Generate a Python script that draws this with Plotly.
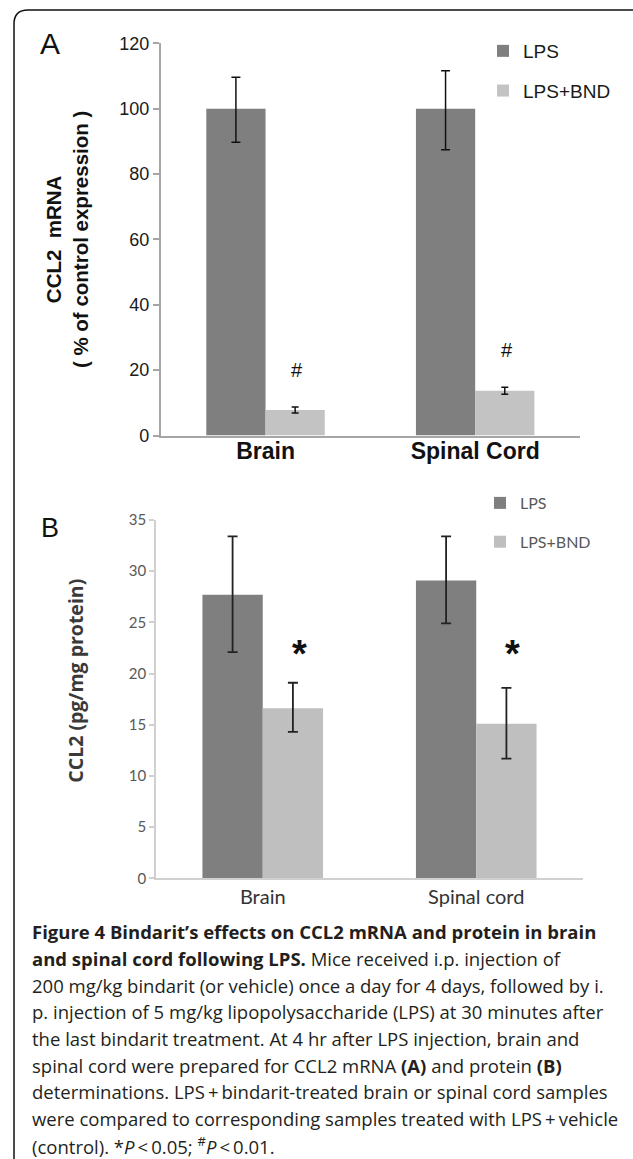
import plotly.graph_objects as go

W, H = 633, 1159

# ---------------- data ----------------
series_names = ["LPS", "LPS+BND"]

categories_a = ["Brain", "Spinal Cord"]
lps_a = [100, 100]
lps_a_err_plus = [9.6, 11.6]
lps_a_err_minus = [10.3, 12.6]
bnd_a = [7.8, 13.7]
bnd_a_err = [0.9, 1.1]
yticks_a = [0, 20, 40, 60, 80, 100, 120]
sig_a = ["#", "#"]

categories_b = ["Brain", "Spinal cord"]
lps_b = [27.7, 29.1]
lps_b_err_plus = [5.7, 4.3]
lps_b_err_minus = [5.6, 4.2]
bnd_b = [16.6, 15.1]
bnd_b_err_plus = [2.5, 3.5]
bnd_b_err_minus = [2.3, 3.4]
yticks_b = [0, 5, 10, 15, 20, 25, 30, 35]
sig_b = ["*", "*"]

caption_lines = [
    "<b>Figure 4 Bindarit\u2019s effects on CCL2 mRNA and protein in brain</b>",
    "<b>and spinal cord following LPS.</b> Mice received i.p. injection of",
    "200 mg/kg bindarit (or vehicle) once a day for 4 days, followed by i.",
    "p. injection of 5 mg/kg lipopolysaccharide (LPS) at 30 minutes after",
    "the last bindarit treatment. At 4 hr after LPS injection, brain and",
    "spinal cord were prepared for CCL2 mRNA <b>(A)</b> and protein <b>(B)</b>",
    "determinations. LPS\u2009+\u2009bindarit-treated brain or spinal cord samples",
    "were compared to corresponding samples treated with LPS\u2009+\u2009vehicle",
    "(control). *<i>P</i>\u2009<\u20090.05; <sup>#</sup><i>P</i>\u2009<\u20090.01.",
]

# ---------------- helpers ----------------
def px_x(p):
    return p / W

def px_y(p):
    return 1 - p / H

C_DARK = "#7f7f7f"
C_LIGHT_A = "#c3c3c3"
C_LIGHT_B = "#bfbfbf"
ARIAL = "Liberation Sans, Arial, sans-serif"
CALIBRI = "Lato, Open Sans, sans-serif"
MYRIAD = "Open Sans, Noto Sans, sans-serif"

fig = go.Figure()

# ---------------- panel A ----------------
fig.add_trace(go.Bar(
    name=series_names[0], x=categories_a, y=lps_a,
    marker=dict(color=C_DARK, line=dict(width=0)),
    error_y=dict(type="data", symmetric=False, array=lps_a_err_plus,
                 arrayminus=lps_a_err_minus, color="#111", thickness=1.5, width=4.5),
    xaxis="x", yaxis="y", legend="legend", legendgroup="a1",
))
fig.add_trace(go.Bar(
    name=series_names[1], x=categories_a, y=bnd_a,
    marker=dict(color=C_LIGHT_A, line=dict(width=0)),
    error_y=dict(type="data", array=bnd_a_err, color="#111", thickness=1.5, width=3.5),
    xaxis="x", yaxis="y", legend="legend", legendgroup="a2",
))

# ---------------- panel B ----------------
fig.add_trace(go.Bar(
    name=series_names[0], x=categories_b, y=lps_b,
    marker=dict(color=C_DARK, line=dict(width=0)),
    error_y=dict(type="data", symmetric=False, array=lps_b_err_plus,
                 arrayminus=lps_b_err_minus, color="#222", thickness=1.8, width=5),
    xaxis="x2", yaxis="y2", legend="legend2", legendgroup="b1",
))
fig.add_trace(go.Bar(
    name=series_names[1], x=categories_b, y=bnd_b,
    marker=dict(color=C_LIGHT_B, line=dict(width=0)),
    error_y=dict(type="data", symmetric=False, array=bnd_b_err_plus,
                 arrayminus=bnd_b_err_minus, color="#222", thickness=1.8, width=5),
    xaxis="x2", yaxis="y2", legend="legend2", legendgroup="b2",
))

annotations = []
# significance marks, above the LPS+BND error bars
for i, s in enumerate(sig_a):
    annotations.append(dict(
        x=i + 0.15, y=bnd_a[i] + bnd_a_err[i] + 11.3, xref="x", yref="y",
        text=s, showarrow=False, font=dict(family=ARIAL, size=20, color="#111"),
        xanchor="center", yanchor="middle"))
sig_level_b = max(v + e for v, e in zip(bnd_b, bnd_b_err_plus)) + 3.6
for i, s in enumerate(sig_b):
    annotations.append(dict(
        x=i + 0.17, y=sig_level_b, xref="x2", yref="y2",
        text=s, showarrow=False, font=dict(family=ARIAL, size=38, color="#111", weight="bold"),
        xanchor="center", yanchor="middle", yshift=-8))

# panel letters
annotations.append(dict(x=px_x(50), y=px_y(44), xref="paper", yref="paper", text="A",
                        showarrow=False, font=dict(family=ARIAL, size=30, color="#111"),
                        xanchor="center", yanchor="middle"))
annotations.append(dict(x=px_x(50), y=px_y(527.5), xref="paper", yref="paper", text="B",
                        showarrow=False, font=dict(family=ARIAL, size=27, color="#111"),
                        xanchor="center", yanchor="middle"))

# y-axis title of panel B (sits a little above the axis centre in the original)
annotations.append(dict(x=px_x(74.7), y=px_y(681), xref="paper", yref="paper",
                        text="<b>CCL2 (pg/mg protein)</b>", textangle=-90, showarrow=False,
                        font=dict(family=MYRIAD, size=19.5, color="#3a3a3a"),
                        xanchor="center", yanchor="middle"))

# caption
for k, line in enumerate(caption_lines):
    annotations.append(dict(
        x=px_x(30), y=px_y(931.7 + 26.67 * k), xref="paper", yref="paper",
        text=line, showarrow=False, align="left",
        font=dict(family=MYRIAD, size=18.5, color="#231f20"),
        xanchor="left", yanchor="middle"))

# frame (rounded top-left corner)
x0, y0, r = 14, 10, 14
frame_path = (f"M {px_x(W + 5)},{px_y(y0)} L {px_x(x0 + r)},{px_y(y0)} "
              f"Q {px_x(x0)},{px_y(y0)} {px_x(x0)},{px_y(y0 + r)} "
              f"L {px_x(x0)},{px_y(H + 5)}")
shapes = [dict(type="path", path=frame_path, xref="paper", yref="paper",
               line=dict(color="#111", width=1.5))]

fig.update_layout(
    width=W, height=H,
    margin=dict(l=0, r=0, t=0, b=0),
    paper_bgcolor="white", plot_bgcolor="white",
    barmode="group", bargap=0.435, bargroupgap=0,
    showlegend=True,
    annotations=annotations, shapes=shapes,
    xaxis=dict(
        domain=[px_x(160.7), px_x(580)], anchor="y",
        showline=True, linecolor="#a6a6a6", linewidth=1.5,
        ticks="", showgrid=False, zeroline=False, automargin=False,
        ticklabelstandoff=-6,
        tickfont=dict(family=ARIAL, size=23, color="#111", weight="bold"),
    ),
    yaxis=dict(
        domain=[px_y(435.5), px_y(43.3)], anchor="x", range=[0, 120],
        tickvals=yticks_a, showline=True, linecolor="#a6a6a6", linewidth=1.5,
        ticks="outside", ticklen=6, tickcolor="#a6a6a6", tickwidth=1.5,
        showgrid=False, zeroline=False, automargin=False,
        tickfont=dict(family=ARIAL, size=18, color="#1a1a1a"),
        title=dict(text="CCL2\u00a0 mRNA<br>( % of control expression )",
                   font=dict(family=ARIAL, size=20.5, color="#111", weight="bold"),
                   standoff=25),
    ),
    xaxis2=dict(
        domain=[px_x(156), px_x(583)], anchor="y2",
        showline=True, linecolor="#d0d0d0", linewidth=1.5,
        ticks="", showgrid=False, zeroline=False, automargin=False,
        tickfont=dict(family=CALIBRI, size=20, color="#333333"),
    ),
    yaxis2=dict(
        domain=[px_y(878.3), px_y(520)], anchor="x2", range=[0, 35],
        tickvals=yticks_b, showline=True, linecolor="#d0d0d0", linewidth=1.5,
        ticks="outside", ticklen=5, tickcolor="#d0d0d0", tickwidth=1.5,
        showgrid=False, zeroline=False, automargin=False,
        tickfont=dict(family=CALIBRI, size=15, color="#595959"),
    ),
    legend=dict(
        x=px_x(483), y=px_y(32), xanchor="left", yanchor="top",
        xref="paper", yref="paper", bgcolor="rgba(0,0,0,0)",
        font=dict(family=ARIAL, size=19, color="#1a1a1a"),
        tracegroupgap=12, traceorder="grouped",
    ),
    legend2=dict(
        x=px_x(480), y=px_y(486), xanchor="left", yanchor="top",
        xref="paper", yref="paper", bgcolor="rgba(0,0,0,0)",
        font=dict(family=CALIBRI, size=16, color="#595959"),
        tracegroupgap=15, traceorder="grouped",
    ),
)

fig.write_html("out.html", config={"displayModeBar": False})
